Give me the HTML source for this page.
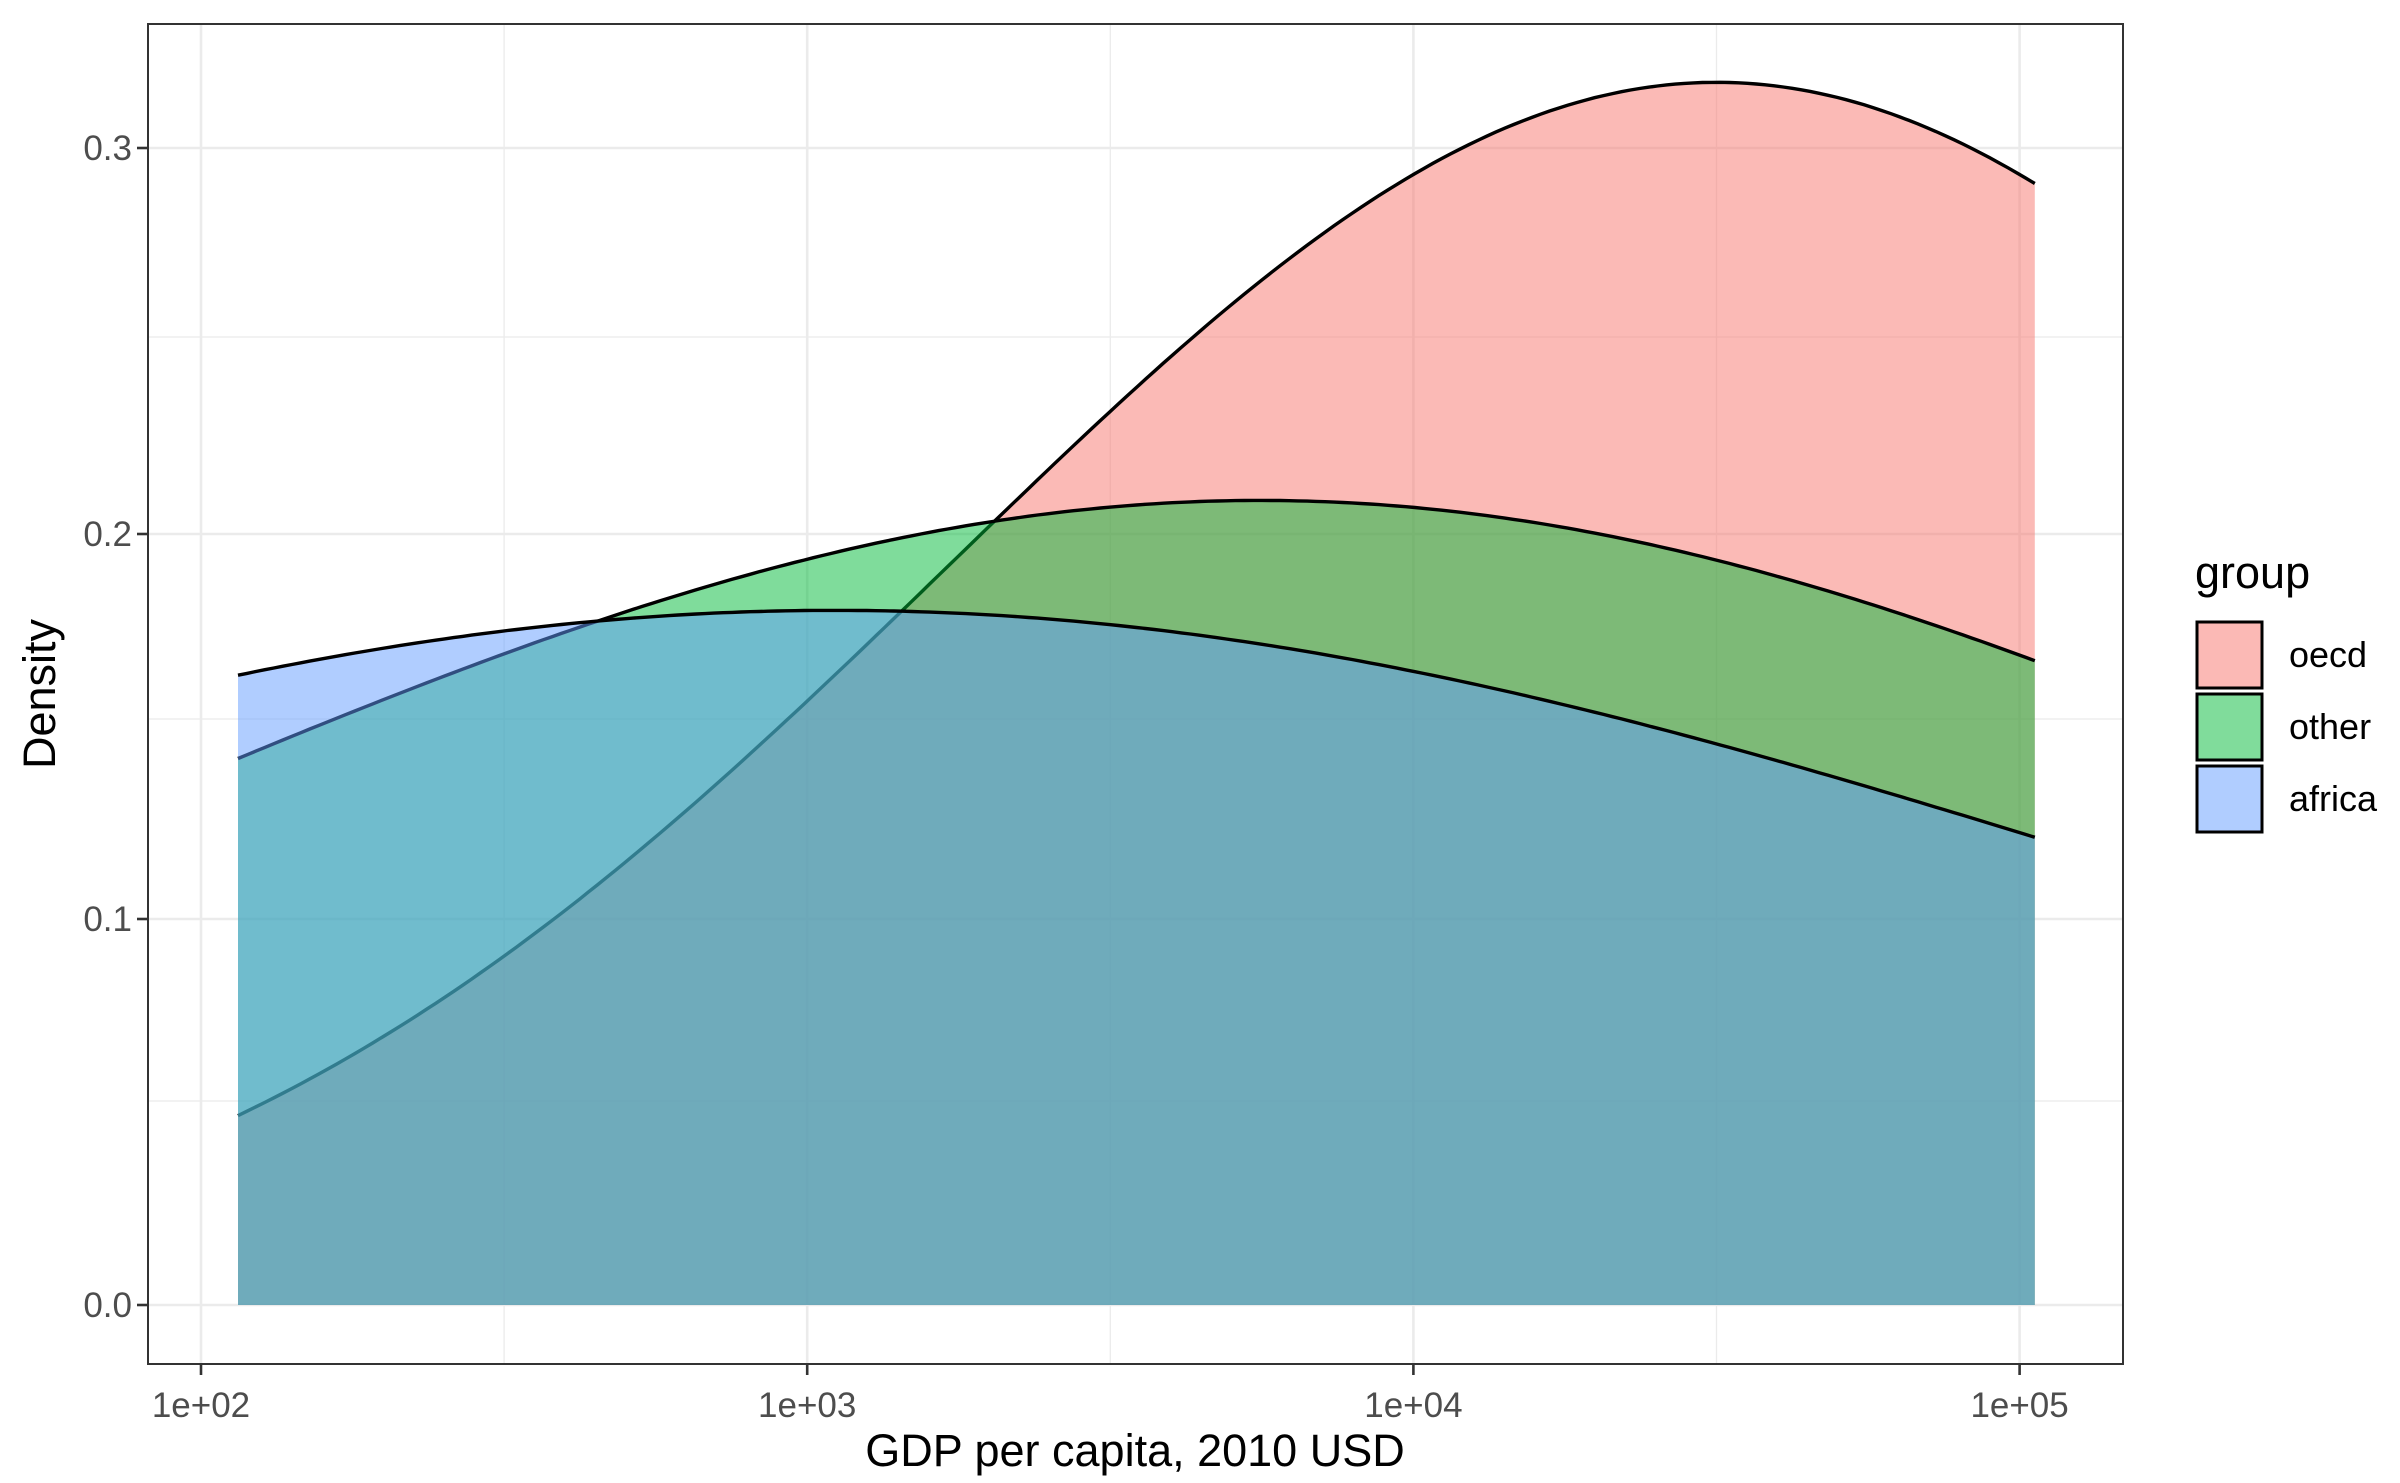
<!DOCTYPE html>
<html><head><meta charset="utf-8"><style>
html,body{margin:0;padding:0;background:#fff;}
svg{display:block;font-family:"Liberation Sans",sans-serif;}
</style></head><body>
<svg id="s" width="2400" height="1483" viewBox="0 0 2400 1483" xmlns="http://www.w3.org/2000/svg">
<rect width="2400" height="1483" fill="#fff"/>
<g stroke="#EBEBEB">
<line x1="148" x2="2123" y1="1101" y2="1101" stroke-width="1.3"/>
<line x1="148" x2="2123" y1="719" y2="719" stroke-width="1.3"/>
<line x1="148" x2="2123" y1="337" y2="337" stroke-width="1.3"/>
<line x1="504.1" x2="504.1" y1="24" y2="1364" stroke-width="1.3"/>
<line x1="1110.3" x2="1110.3" y1="24" y2="1364" stroke-width="1.3"/>
<line x1="1716.5" x2="1716.5" y1="24" y2="1364" stroke-width="1.3"/>
<line x1="148" x2="2123" y1="1305" y2="1305" stroke-width="2.6"/>
<line x1="148" x2="2123" y1="919" y2="919" stroke-width="2.6"/>
<line x1="148" x2="2123" y1="534" y2="534" stroke-width="2.6"/>
<line x1="148" x2="2123" y1="148" y2="148" stroke-width="2.6"/>
<line x1="201" x2="201" y1="24" y2="1364" stroke-width="2.6"/>
<line x1="807.2" x2="807.2" y1="24" y2="1364" stroke-width="2.6"/>
<line x1="1413.4" x2="1413.4" y1="24" y2="1364" stroke-width="2.6"/>
<line x1="2019.6" x2="2019.6" y1="24" y2="1364" stroke-width="2.6"/>
</g>
<g id="curves"></g>
<rect x="148" y="24" width="1975" height="1340" fill="none" stroke="#333" stroke-width="2"/>
<g stroke="#333" stroke-width="2.6">
<line x1="137" x2="148" y1="1305" y2="1305"/><line x1="137" x2="148" y1="919" y2="919"/>
<line x1="137" x2="148" y1="534" y2="534"/><line x1="137" x2="148" y1="148" y2="148"/>
<line x1="201" x2="201" y1="1364" y2="1375"/><line x1="807.2" x2="807.2" y1="1364" y2="1375"/>
<line x1="1413.4" x2="1413.4" y1="1364" y2="1375"/><line x1="2019.6" x2="2019.6" y1="1364" y2="1375"/>
</g>
<g fill="#4D4D4D" font-size="35" text-anchor="end">
<text x="132" y="1317">0.0</text><text x="132" y="931">0.1</text>
<text x="132" y="546">0.2</text><text x="132" y="160">0.3</text>
</g>
<g fill="#4D4D4D" font-size="35" text-anchor="middle">
<text x="201" y="1417">1e+02</text><text x="807.2" y="1417">1e+03</text>
<text x="1413.4" y="1417">1e+04</text><text x="2019.6" y="1417">1e+05</text>
</g>
<text x="1135" y="1466" font-size="45" text-anchor="middle">GDP per capita, 2010 USD</text>
<text transform="translate(55,694) rotate(-90)" font-size="45" text-anchor="middle">Density</text>
<text x="2195" y="588" font-size="45">group</text>
<rect x="2197" y="622" width="65" height="66" fill="#FBB9B5" stroke="#000" stroke-width="3"/>
<rect x="2197" y="694" width="65" height="66" fill="#80DC9B" stroke="#000" stroke-width="3"/>
<rect x="2197" y="766" width="65" height="66" fill="#B0CDFF" stroke="#000" stroke-width="3"/>
<g font-size="36"><text x="2289" y="667">oecd</text><text x="2289" y="739">other</text><text x="2289" y="811">africa</text></g>
</svg>
<script>
(function(){
var g=document.getElementById('curves');
var L0=2.061,L1=5.025;
function X(L){return 201+(L-2)*606.2;}
function Y(d){return 1305-d*3857;}
var series=[
 {A:0.317,m:4.5,v:3.19,c:'#F8766D'},
 {A:0.2086,m:3.747,v:7.35,c:'#00BA38'},
 {A:0.1801,m:3.046,v:9.9,c:'#619CFF'}];
var ns='http://www.w3.org/2000/svg';
series.forEach(function(s){
 var pts=[];
 for(var i=0;i<=200;i++){var L=L0+(L1-L0)*i/200;var d=s.A*Math.exp(-(L-s.m)*(L-s.m)/s.v);pts.push(X(L).toFixed(1)+','+Y(d).toFixed(1));}
 var a=document.createElementNS(ns,'polygon');
 a.setAttribute('points',X(L0).toFixed(1)+','+Y(0)+' '+pts.join(' ')+' '+X(L1).toFixed(1)+','+Y(0));
 a.setAttribute('fill',s.c);a.setAttribute('fill-opacity','0.5');
 g.appendChild(a);
 var p=document.createElementNS(ns,'polyline');
 p.setAttribute('points',pts.join(' '));
 p.setAttribute('fill','none');p.setAttribute('stroke','#000');p.setAttribute('stroke-width','3.4');
 g.appendChild(p);
});
})();
</script>
</body></html>
